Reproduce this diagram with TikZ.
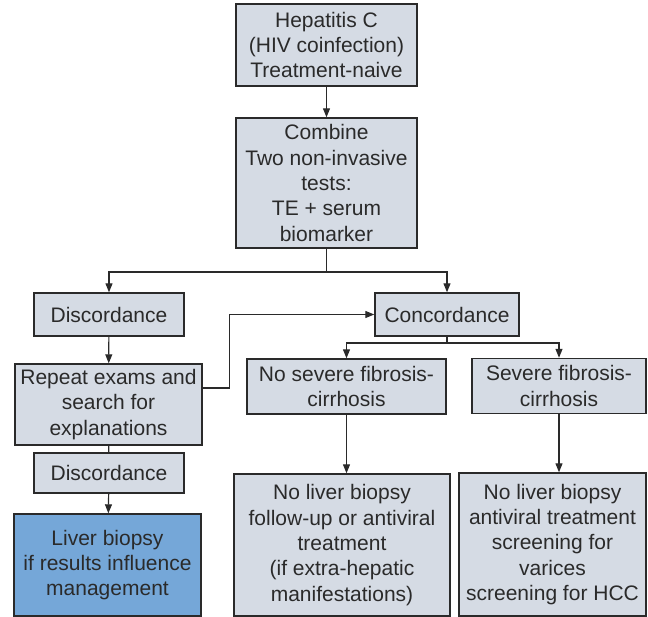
\documentclass[tikz,border=0pt]{standalone}
\usepackage{fontspec}
\setmainfont{Liberation Sans}
\usetikzlibrary{arrows.meta}
\definecolor{boxfill}{HTML}{D5DBE4}
\definecolor{bluefill}{HTML}{75A7D8}
\definecolor{ink}{HTML}{2A2A2A}
\begin{document}
\begin{tikzpicture}[x=1pt,y=-1pt,
  box/.style={draw=ink, line width=1.4pt, fill=boxfill, align=center, inner sep=0pt,
    font=\fontsize{21}{25.3}\selectfont, text=ink},
  conn/.style={draw=ink, line width=1.2pt},
  arr/.style={conn, -{Triangle[length=9pt,width=7pt]}}]
\useasboundingbox (0,0) rectangle (648,617);
\node[box, minimum width=181pt, minimum height=82pt] (h) at (326.5,45)
  {Hepatitis C\\(HIV coinfection)\\Treatment-naive};
\node[box, minimum width=181pt, minimum height=130pt] (c) at (326.5,183)
  {Combine\\Two non-invasive\\tests:\\TE + serum\\biomarker};
\node[box, minimum width=150pt, minimum height=43pt] (d1) at (109,314.5) {Discordance};
\node[box, minimum width=144pt, minimum height=43pt] (cc) at (447,314.5) {Concordance};
\node[box, minimum width=187pt, minimum height=81pt] (r) at (108.5,404.5)
  {Repeat exams and\\search for\\explanations};
\node[box, minimum width=199pt, minimum height=55pt] (ns) at (346.5,386.5)
  {No severe fibrosis-\\cirrhosis};
\node[box, minimum width=174pt, minimum height=55pt] (sv) at (559,386)
  {Severe fibrosis-\\cirrhosis};
\node[box, minimum width=150pt, minimum height=40pt] (d2) at (109,473) {Discordance};
\node[box, fill=bluefill, minimum width=187pt, minimum height=102pt] (lb) at (107.5,565)
  {Liver biopsy\\if results influence\\management};
\node[box, minimum width=216pt, minimum height=142pt] (n1) at (342,545)
  {No liver biopsy\\follow-up or antiviral\\treatment\\(if extra-hepatic\\manifestations)};
\node[box, minimum width=187pt, minimum height=143pt] (n2) at (552.5,544.5)
  {No liver biopsy\\antiviral treatment\\screening for\\varices\\screening for HCC};
\coordinate (split) at (326.5,272);
\coordinate (split2) at (447,343);
\draw[arr] (h) -- (c);
\draw[conn] (c.south) -- (split);
\draw[arr] (split) -| (d1);
\draw[arr] (split) -| (cc);
\draw[arr] (d1) -- (r);
\draw[conn] (r) -- (d2);
\draw[arr] (d2) -- (lb);
\draw[arr] ([yshift=16.5pt]r.east) -- ++(27,0) |- (cc.west);
\draw[conn] (cc.south) -- (split2);
\draw[arr] (split2) -| (ns);
\draw[arr] (split2) -| (sv);
\draw[arr] (ns.south) -- (ns.south |- n1.north);
\draw[arr] (sv.south) -- (sv.south |- n2.north);
\end{tikzpicture}
\end{document}
